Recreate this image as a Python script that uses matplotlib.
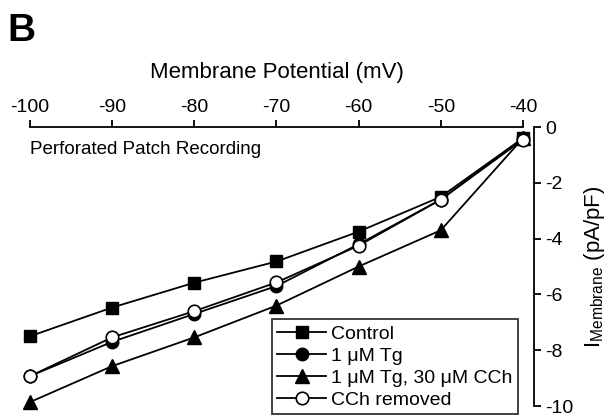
import matplotlib
matplotlib.use("Agg")
import matplotlib.pyplot as plt

plt.rcParams['font.family'] = ['Liberation Sans', 'DejaVu Sans']

voltage = [-100, -90, -80, -70, -60, -50, -40]
control = [-7.5, -6.47, -5.58, -4.82, -3.75, -2.5, -0.4]
tg = [-8.93, -7.7, -6.7, -5.7, -4.2, -2.6, -0.4]
tg_cch = [-9.86, -8.57, -7.54, -6.4, -5.0, -3.7, -0.4]
cch_removed = [-8.93, -7.54, -6.6, -5.57, -4.25, -2.6, -0.45]
xticks = [-100, -90, -80, -70, -60, -50, -40]
yticks = [0, -2, -4, -6, -8, -10]

fig = plt.figure(figsize=(6.11, 4.2), dpi=100)
ax = fig.add_axes([0.049, 0.0333, 0.807, 0.6643])

lw = 1.3
ax.plot(voltage, control, '-s', color='black', lw=lw, ms=8.5, mfc='black', mec='black', clip_on=False, label='Control', zorder=3)
ax.plot(voltage, tg, '-o', color='black', lw=lw, ms=9, mfc='black', mec='black', clip_on=False, label='1 μM Tg', zorder=3)
ax.plot(voltage, tg_cch, '-^', color='black', lw=lw, ms=10, mfc='black', mec='black', clip_on=False, label='1 μM Tg, 30 μM CCh', zorder=3)
ax.plot(voltage, cch_removed, '-o', color='black', lw=lw, ms=9, mfc='white', mec='black', mew=1.2, clip_on=False, label='CCh removed', zorder=4)

ax.set_xlim(-100, -40)
ax.set_ylim(-10, 0)

ax.spines['bottom'].set_visible(False)
ax.spines['left'].set_visible(False)
ax.spines['top'].set_linewidth(1.3)
ax.spines['right'].set_linewidth(1.3)
ax.spines['right'].set_position(('outward', 8))
ax.xaxis.tick_top()
ax.xaxis.set_label_position('top')
ax.yaxis.tick_right()
ax.yaxis.set_label_position('right')
ax.set_xticks(xticks)
ax.set_xticklabels([str(v) for v in xticks])
ax.set_yticks(yticks)
ax.set_yticklabels([str(v) for v in yticks])
ax.tick_params(axis='both', direction='out', length=5, width=1.3, labelsize=14, pad=3)

ax.set_xlabel('Membrane Potential (mV)', fontsize=16, labelpad=15)
ax.set_ylabel(r'I$_{\mathregular{Membrane}}$ (pA/pF)', fontsize=16, labelpad=6)

ax.text(0.0, 0.95, 'Perforated Patch Recording', transform=ax.transAxes, fontsize=13.5, va='top', ha='left')

fig.text(0.012, 0.97, 'B', fontsize=28, fontweight='bold', va='top', ha='left')

leg = ax.legend(loc='lower right', bbox_to_anchor=(0.99, -0.03), frameon=True, fancybox=False,
                edgecolor='black', fontsize=14, handlelength=2.5, labelspacing=0.22,
                borderpad=0.3, handletextpad=0.25, borderaxespad=0)
leg.get_frame().set_linewidth(1.3)

fig.savefig('out.png', dpi=100)
